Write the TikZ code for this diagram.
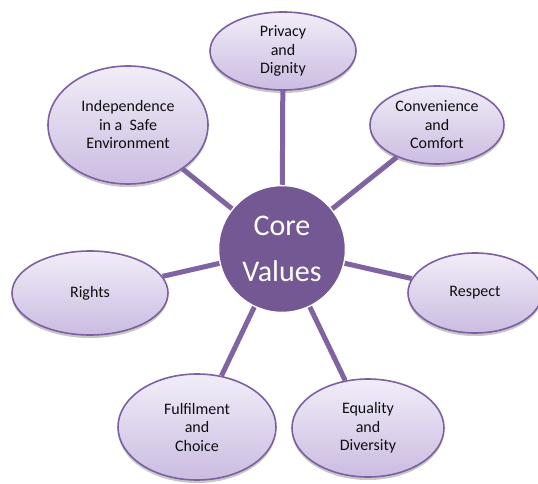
\documentclass[tikz,border=0pt]{standalone}
\usepackage{fontspec}
\setmainfont{Carlito}
\usetikzlibrary{shapes.geometric,shadows}
\definecolor{ellborder}{RGB}{125,96,160}
\definecolor{elltop}{RGB}{241,237,248}
\definecolor{ellbot}{RGB}{203,188,225}
\definecolor{corefill}{RGB}{116,88,147}
\definecolor{linkcol}{RGB}{128,100,162}
\definecolor{txt}{RGB}{15,15,15}
\tikzset{
  valuebox/.style={ellipse, draw=ellborder, line width=1.6pt, top color=elltop, bottom color=ellbot,
    inner sep=0pt, align=center, text=txt,
    font=\fontsize{16}{18.5}\selectfont,
    drop shadow={shadow xshift=0pt, shadow yshift=-3pt, opacity=0.22, fill=black}},
  corebox/.style={circle, fill=corefill, draw=white, line width=1.5pt, minimum size=127pt, inner sep=0pt,
    align=center, text=white, font=\fontsize{30}{46}\selectfont},
  linkline/.style={draw=linkcol, line width=5pt}
}
\begin{document}
\begin{tikzpicture}[x=1pt,y=-1pt]
\useasboundingbox[fill=white] (0,0) rectangle (538,484);
\node[corebox] (core) at (282,249) {Core\\Values};
\node[valuebox, minimum width=146pt, minimum height=78pt] (priv) at (283,51) {Privacy\\and\\Dignity};
\node[valuebox, minimum width=160pt, minimum height=118pt] (indep) at (128,125) {Independence\\in a~ Safe\\Environment};
\node[valuebox, minimum width=134pt, minimum height=78pt] (conv) at (437,125) {Convenience\\and\\Comfort};
\node[valuebox, minimum width=156pt, minimum height=84pt] (rights) at (90,293) {Rights};
\node[valuebox, minimum width=134pt, minimum height=80pt] (resp) at (475,293) {Respect};
\node[valuebox, minimum width=158pt, minimum height=106pt] (fulfil) at (197,427) {Fulfilment\\and\\Choice};
\node[valuebox, minimum width=152pt, minimum height=98pt] (equal) at (368,428) {Equality\\and\\Diversity};
\foreach \n in {priv,indep,conv,rights,resp,fulfil,equal}
  \draw[linkline] (\n) -- (core);
\end{tikzpicture}
\end{document}
